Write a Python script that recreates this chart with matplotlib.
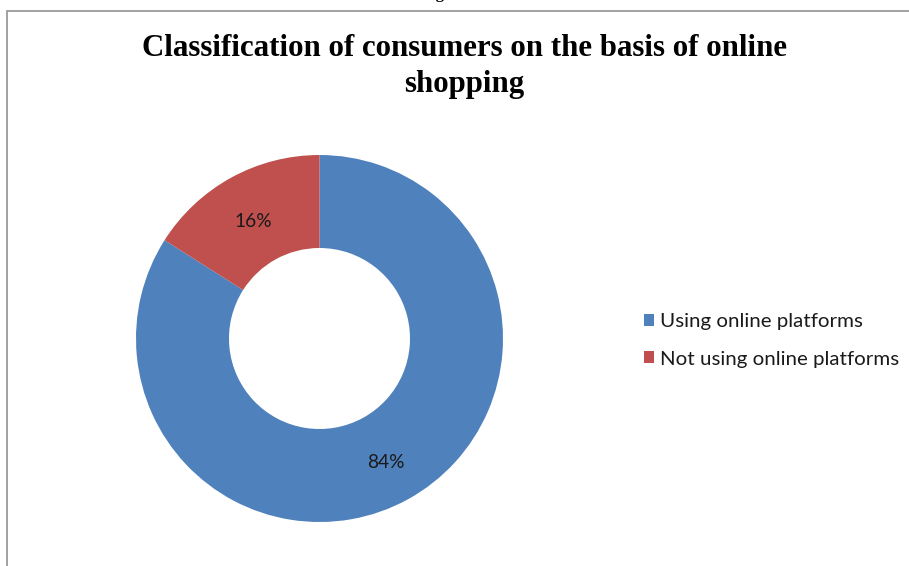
import matplotlib
matplotlib.use("Agg")
import matplotlib.pyplot as plt
from matplotlib.patches import Rectangle
from matplotlib.transforms import ScaledTranslation

categories = ["Using online platforms", "Not using online platforms"]
shares = [84, 16]
colors = ["#4F81BD", "#C0504D"]
title_lines = ["Classification of consumers on the basis of online", "shopping"]

W, H = 909, 566
fig = plt.figure(figsize=(W / 100, H / 100), dpi=100)
fig.patch.set_facecolor("white")


def fx(px):
    return px / W


def fy(py):
    return 1 - py / H


# chart frame (open on the right and bottom, clipped by the page)
fig.patches.append(Rectangle((fx(7), fy(H + 20)), fx(W + 20), (H + 20 - 10.5) / H,
                             transform=fig.transFigure, fill=False,
                             edgecolor="#9a9a9a", linewidth=1.3))

# caption fragment above the frame
fig.text(fx(421), fy(-1.5), "Figure 1", family="Liberation Serif", weight="bold",
         fontsize=12, ha="left", va="baseline", color="black")

# title
fig.text(fx(464), fy(48), title_lines[0], family="Liberation Serif", weight="bold",
         fontsize=22.2, ha="center", va="center", color="black")
fig.text(fx(464), fy(84.5), title_lines[1], family="Liberation Serif", weight="bold",
         fontsize=22.2, ha="center", va="center", color="black")

# doughnut
cx, cy, r = 319.5, 338.5, 183.5
ax = fig.add_axes([fx(cx - r), fy(cy + r), 2 * r / W, 2 * r / H])
wedges, texts, autotexts = ax.pie(
    shares, colors=colors, startangle=90, counterclock=False, radius=1,
    wedgeprops=dict(width=(183.5 - 90.5) / 183.5, linewidth=0),
    autopct=lambda p: f"{p:.0f}%", pctdistance=0.75,
    textprops=dict(family="Lato", fontsize=13.8, color="#1a1a1a"))
# nudge the percentage labels slightly downward
for t in autotexts:
    t.set_transform(t.get_transform() + ScaledTranslation(0, -0.035, fig.dpi_scale_trans))
ax.set_xlim(-1, 1)
ax.set_ylim(-1, 1)
ax.set_aspect("equal")
ax.axis("off")

fig.legend(wedges, categories, loc="center left",
           bbox_to_anchor=(fx(625.5), fy(340.5)), frameon=False,
           prop=dict(family="Lato", size=14.75), handlelength=0.51,
           handleheight=0.51, handletextpad=0.25, labelspacing=0.98,
           labelcolor="#1a1a1a")

fig.savefig("out.png", dpi=100, facecolor="white")
